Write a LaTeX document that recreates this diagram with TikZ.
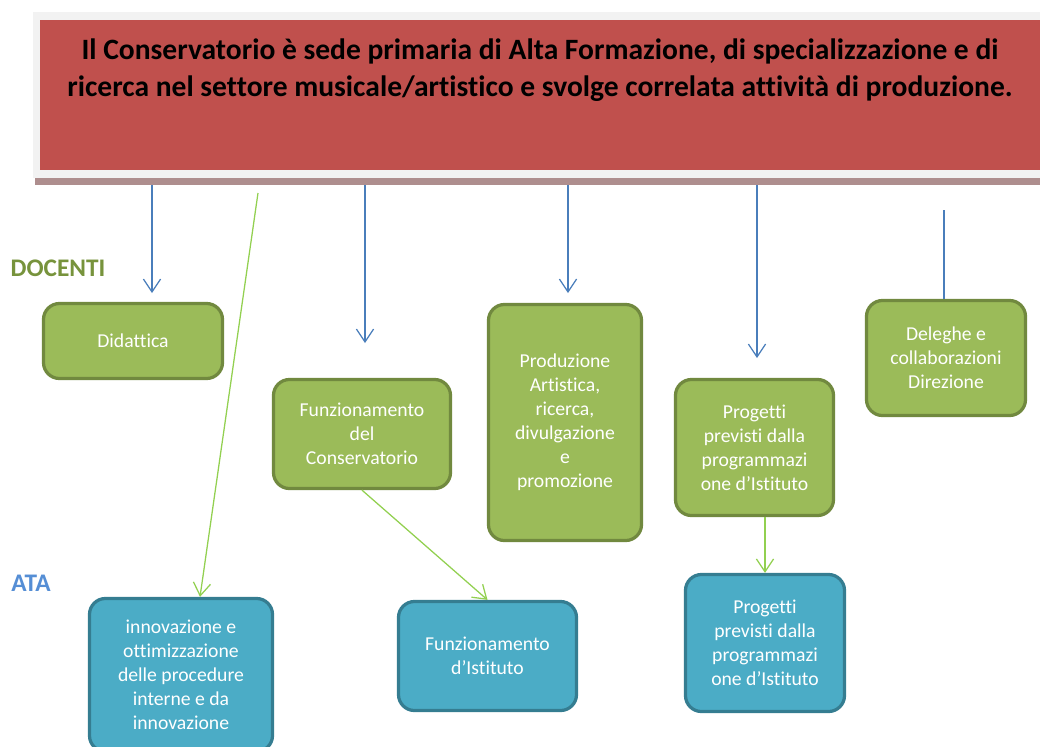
\documentclass[tikz,border=0pt]{standalone}
\usepackage{fontspec}
\setmainfont{Carlito}[Ligatures=NoCommon]
\usepackage{tikz}
\usetikzlibrary{arrows.meta,calc}
\definecolor{bannerred}{HTML}{C0504D}
\definecolor{bannerframe}{HTML}{F2F2F2}
\definecolor{bannershadow}{HTML}{AE8E8E}
\definecolor{docfill}{HTML}{9BBB59}
\definecolor{docline}{HTML}{71893F}
\definecolor{atafill}{HTML}{4BACC6}
\definecolor{ataline}{HTML}{357D91}
\definecolor{bluelink}{HTML}{4A7EBB}
\definecolor{greenlink}{HTML}{92D050}
\definecolor{docenti}{HTML}{77933C}
\definecolor{ata}{HTML}{558ED5}

\begin{document}
\begin{tikzpicture}[x=0.025cm,y=-0.025cm]
        \tikzstyle{box}=[rectangle, rounded corners=0.4cm, line width=2.3pt, align=center,
            text=white, font=\fontsize{14}{17}\selectfont];
        \tikzstyle{docbox}=[box, draw=docline, fill=docfill];
        \tikzstyle{atabox}=[box, draw=ataline, fill=atafill];
        \tikzstyle{bluearrow}=[draw=bluelink, line width=0.9pt, -{Straight Barb[length=3.2mm,width=4.3mm]}];
        \tikzstyle{greenarrow}=[draw=greenlink, line width=0.9pt, -{Straight Barb[length=3.2mm,width=4.3mm]}];
        \useasboundingbox (0,0) rectangle (1040,746);

        % Banner with the mission statement
        \fill[bannerframe] (33,12) rectangle (1040,178);
        \fill[bannershadow] (35,178) rectangle (1040,185);
        \fill[bannerred] (40,20) rectangle (1040,170);
        \node[align=center, font=\fontsize{21}{26.3}\selectfont\bfseries] (banner) at (540,70)
            {Il Conservatorio è sede primaria di Alta Formazione, di specializzazione e di\\
             ricerca nel settore musicale/artistico e svolge correlata attività di produzione.};

        % Row labels
        \node[text=docenti, font=\fontsize{18}{20}\selectfont\bfseries] (lbldoc) at (58,268) {DOCENTI};
        \node[text=ata, font=\fontsize{18}{20}\selectfont\bfseries] (lblata) at (31,583) {ATA};

        % DOCENTI boxes
        \node[docbox, minimum width=4.475cm, minimum height=1.875cm] (didattica) at (133,341) {Didattica};
        \node[docbox, minimum width=4.425cm, minimum height=2.725cm] (funzcons) at (362,434)
            {Funzionamento\\del\\Conservatorio};
        \node[docbox, minimum width=3.825cm, minimum height=5.9cm] (produzione) at (565,422.5)
            {Produzione\\Artistica,\\ricerca,\\divulgazione\\e\\promozione};
        \node[docbox, minimum width=3.95cm, minimum height=3.4cm] (progetti) at (754.5,447.5)
            {Progetti\\previsti dalla\\programmazi\\one d’Istituto};
        \node[docbox, minimum width=3.975cm, minimum height=2.875cm] (deleghe) at (946,358)
            {Deleghe e\\collaborazioni\\Direzione};

        % ATA boxes
        \node[atabox, minimum width=4.575cm, minimum height=3.825cm] (innovazione) at (181,675)
            {innovazione e\\ottimizzazione\\delle procedure\\interne e da\\innovazione};
        \node[atabox, minimum width=4.45cm, minimum height=2.725cm] (funzist) at (487.5,656)
            {Funzionamento\\d’Istituto};
        \node[atabox, minimum width=3.975cm, minimum height=3.425cm] (progata) at (765,643)
            {Progetti\\previsti dalla\\programmazi\\one d’Istituto};

        % Free ends of the connectors below the banner
        \coordinate (b1s) at (152,185);  \coordinate (b1e) at (152,293);
        \coordinate (b2s) at (365,185);  \coordinate (b2e) at (365,343);
        \coordinate (b3s) at (568,185);  \coordinate (b3e) at (568,293);
        \coordinate (b4s) at (757,185);  \coordinate (b4e) at (757,358);
        \coordinate (b5s) at (944,210);
        \coordinate (g1s) at (258,193);

        % Blue connectors from the banner
        \draw[bluearrow] (b1s) -- (b1e);
        \draw[bluearrow] (b2s) -- (b2e);
        \draw[bluearrow] (b3s) -- (b3e);
        \draw[bluearrow] (b4s) -- (b4e);
        \draw[draw=bluelink, line width=0.9pt] (b5s) -- (b5s |- deleghe.north);

        % Green connectors down to the ATA boxes
        \draw[greenarrow] (g1s) -- ([xshift=0.475cm]innovazione.north);
        \draw[greenarrow] (funzcons.south) -- (funzist.north);
        \draw[greenarrow] (progata.north |- progetti.south) -- (progata.north);
    \end{tikzpicture}
\end{document}
